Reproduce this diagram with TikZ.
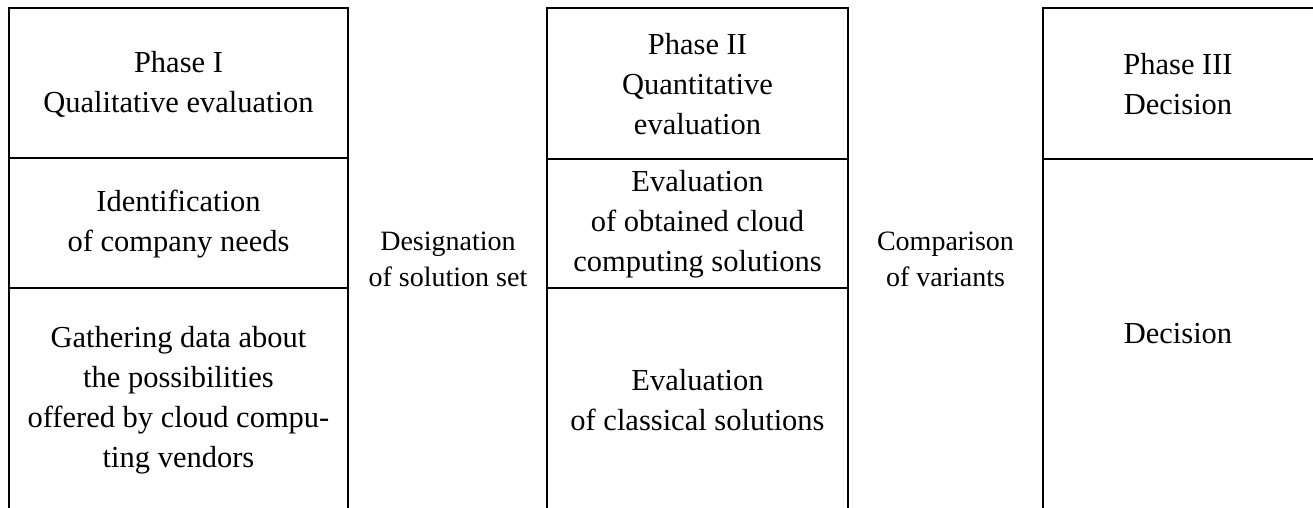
\documentclass[tikz,border=0pt]{standalone}
\usepackage{fontspec}
\setmainfont{Liberation Serif}
\begin{document}
\begin{tikzpicture}[x=1pt,y=1pt,yscale=-1,xscale=1,line width=2.6pt,
  celltext/.style={align=center,inner sep=0.75pt,font=\fontsize{30.5}{40}\selectfont},
  midtext/.style={align=center,inner sep=0.75pt,font=\fontsize{28}{36}\selectfont}]
\useasboundingbox (0,0) rectangle (1313,508);

%Shape: Column I
\draw   (9,508) -- (9,8) -- (348,8) -- (348,508) ;
\draw   (9,158) -- (348,158) ;
\draw   (9,288) -- (348,288) ;
%Shape: Column II
\draw   (547,508) -- (547,8) -- (848,8) -- (848,508) ;
\draw   (547,159) -- (848,159) ;
\draw   (547,288) -- (848,288) ;
%Shape: Column III
\draw   (1043,508) -- (1043,8) -- (1313,8) ;
\draw   (1043,159) -- (1313,159) ;

% Text Node
\node [celltext] (phaseone) at (178.5,84) {Phase I\\Qualitative evaluation};
% Text Node
\node [celltext] (needs) at (178.5,224) {Identification\\of company needs};
% Text Node
\node [celltext] (gathering) at (178.5,400) {Gathering data about\\the possibilities\\offered by cloud compu-\\ting vendors};
% Text Node
\node [midtext] (designation) at (448,259) {Designation\\of solution set};
% Text Node
\node [celltext] (phasetwo) at (697.5,84) {Phase II\\Quantitative\\evaluation};
% Text Node
\node [celltext] (evalcloud) at (697.5,224) {Evaluation\\of obtained cloud\\computing solutions};
% Text Node
\node [celltext] (evalclassic) at (697.5,400) {Evaluation\\of classical solutions};
% Text Node
\node [midtext] (comparison) at (945.5,259) {Comparison\\of variants};
% Text Node
\node [celltext] (phasethree) at (1178,84) {Phase III\\Decision};
% Text Node
\node [celltext] (decision) at (1178,334) {Decision};

\end{tikzpicture}
\end{document}
